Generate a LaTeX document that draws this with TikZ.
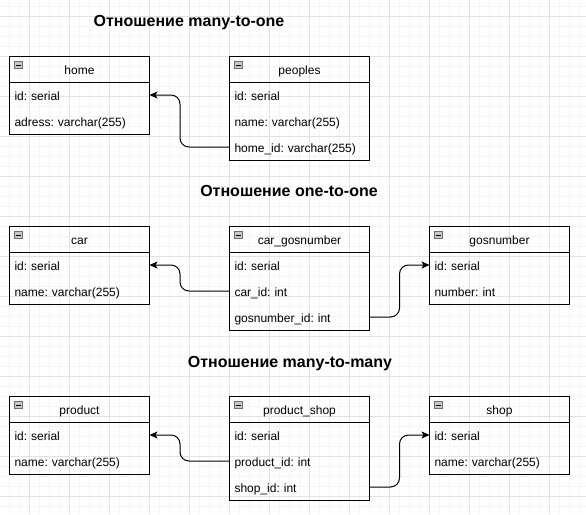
\documentclass[tikz,border=0pt]{standalone}
\usepackage{fontspec}
\setmainfont{Liberation Sans}
\usetikzlibrary{arrows.meta}
\frenchspacing
\definecolor{gridminor}{RGB}{245,245,245}
\definecolor{gridmajor}{RGB}{226,226,226}
\definecolor{icongray}{RGB}{200,200,200}
\definecolor{iconedge}{RGB}{110,110,110}
\tikzset{
  hdrcell/.style={draw=black, line width=1pt, rectangle, minimum width=140pt, minimum height=26pt,
    inner sep=0pt, outer sep=0pt, font=\fontsize{12}{14}\selectfont\frenchspacing, text height=10.2pt, text depth=0pt},
  rowcell/.style={rectangle, minimum width=140pt, minimum height=26pt, inner xsep=5pt, inner ysep=0pt, outer sep=0pt,
    text width=130pt, align=left, font=\fontsize{12}{14}\selectfont\frenchspacing, text height=10.8pt, text depth=0pt},
  frame/.style={draw=black, line width=1pt},
  conn/.style={draw=black, line width=1pt, rounded corners=9pt, -{Stealth[length=8pt,width=7pt,inset=2pt]}},
  titletext/.style={font=\fontsize{16}{19}\bfseries\frenchspacing, text height=11.5pt, text depth=0pt, inner sep=0pt},
}
\newcommand\dbtable[5]{%
  \node[hdrcell, anchor=north west] (#1) at (#2,#3) {#4};
  \foreach \t [count=\i] in {#5} {
    \node[rowcell, anchor=north west] (#1-\i) at (#2,{#3+26*\i}) {\t};
    \xdef\lastidx{\i}
  }
  \draw[frame] (#1.north west) rectangle (#1-\lastidx.south east);
  \filldraw[draw=iconedge, fill=icongray, line width=0.6pt]
    ([shift={(4.5,5.5)}]#1.north west) rectangle ([shift={(12.5,12.5)}]#1.north west);
  \draw[black, line width=0.9pt] ([shift={(6,9)}]#1.north west) -- ([shift={(11,9)}]#1.north west);
}
\begin{document}
\begin{tikzpicture}[x=1pt,y=-1pt]
\useasboundingbox (0,0) rectangle (586,514);
\fill[white] (0,0) rectangle (586,514);
\foreach \x in {-1,9,...,589} \draw[gridminor, line width=0.8pt] (\x,0) -- (\x,514);
\foreach \y in {6,16,...,514} \draw[gridminor, line width=0.8pt] (0,\y) -- (586,\y);
\foreach \x in {29,69,...,589} \draw[gridmajor, line width=0.8pt] (\x,0) -- (\x,514);
\foreach \y in {16,56,...,514} \draw[gridmajor, line width=0.8pt] (0,\y) -- (586,\y);

\node[titletext] (t1) at (189,21) {Отношение many-to-one};
\node[titletext] (t2) at (289,191) {Отношение one-to-one};
\node[titletext] (t3) at (290,361.5) {Отношение many-to-many};

\dbtable{home}{9.5}{56}{home}{id: serial, adress: varchar(255)}
\dbtable{peoples}{229.5}{56}{peoples}{id: serial, name: varchar(255), home\_id: varchar(255)}

\dbtable{car}{9.5}{226}{car}{id: serial, name: varchar(255)}
\dbtable{cargos}{229.5}{226}{car\_gosnumber}{id: serial, car\_id: int, gosnumber\_id: int}
\dbtable{gos}{429.5}{226}{gosnumber}{id: serial, number: int}

\dbtable{product}{9.5}{396}{product}{id: serial, name: varchar(255)}
\dbtable{pshop}{229.5}{396}{product\_shop}{id: serial, product\_id: int, shop\_id: int}
\dbtable{shop}{429.5}{396}{shop}{id: serial, name: varchar(255)}

\draw[conn] (peoples-3.west) -- ++(-49.5,0) |- (home-1.east);
\draw[conn] (cargos-2.west) -- ++(-49.5,0) |- (car-1.east);
\draw[conn] (cargos-3.east) -- ++(30,0) |- (gos-1.west);
\draw[conn] (pshop-2.west) -- ++(-49.5,0) |- (product-1.east);
\draw[conn] (pshop-3.east) -- ++(30,0) |- (shop-1.west);
\end{tikzpicture}
\end{document}
